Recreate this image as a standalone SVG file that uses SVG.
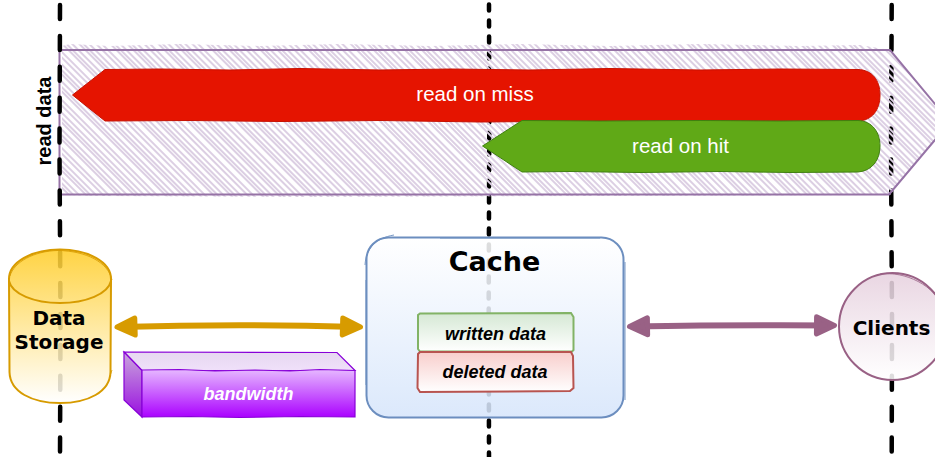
<svg xmlns="http://www.w3.org/2000/svg" width="935" height="457" viewBox="0 0 935 457">
<style>
.life{fill:none;stroke:#000;stroke-width:4.5;stroke-linecap:round}
.sans{font-family:"Liberation Sans",Arial,sans-serif;text-anchor:middle}
.dv{font-family:"DejaVu Sans",Verdana,sans-serif;font-weight:bold;text-anchor:middle;fill:#000}
.lbl{font-weight:bold;font-style:italic;font-size:18px}
.wh{fill:#fff;font-size:20.500px}
.arr{fill:none;stroke-width:6}
</style>
<defs>
<pattern id="hatch" width="34" height="34" patternUnits="userSpaceOnUse" patternTransform="rotate(45)">
<path d="M0 2H34M0 6H34M0 9H34M0 14H34M0 18H34M0 21H34M0 27H34M0 31H34" stroke="#dccfe3" stroke-width="1.800" fill="none"/>
</pattern>
<linearGradient id="gCyl" x1="0" y1="0" x2="0" y2="1"><stop offset="0" stop-color="#ffcd28"/><stop offset="1" stop-color="#fff"/></linearGradient>
<linearGradient id="gCache" x1="0" y1="0" x2="0" y2="1"><stop offset="0" stop-color="#fff"/><stop offset="1" stop-color="#d6e5fb"/></linearGradient>
<linearGradient id="gGreen" x1="0" y1="0" x2="0" y2="1"><stop offset="0" stop-color="#d5e8d4"/><stop offset="1" stop-color="#fff"/></linearGradient>
<linearGradient id="gRed" x1="0" y1="0" x2="0" y2="1"><stop offset="0" stop-color="#f8cecc"/><stop offset="1" stop-color="#fff"/></linearGradient>
<linearGradient id="gCirc" x1="0" y1="0" x2="0" y2="1"><stop offset="0" stop-color="#e6d0de"/><stop offset="1" stop-color="#fff"/></linearGradient>
<linearGradient id="gFront" x1="0" y1="0" x2="0" y2="1"><stop offset="0" stop-color="#e6b8ff"/><stop offset="1" stop-color="#aa00ff"/></linearGradient>
<linearGradient id="gTop" x1="0" y1="0" x2="0" y2="1"><stop offset="0" stop-color="#e6d8f0"/><stop offset="1" stop-color="#f0e0fa"/></linearGradient>
<linearGradient id="gSide" x1="0" y1="0" x2="0" y2="1"><stop offset="0" stop-color="#c9a6dc"/><stop offset="1" stop-color="#9a10e0"/></linearGradient>
<marker id="hO" markerUnits="userSpaceOnUse" markerWidth="30" markerHeight="30" refX="19" refY="15" orient="auto-start-reverse" viewBox="0 0 30 30"><path d="M3 6.500L21 15L3 23.500Z" fill="#d79b00" stroke="#d79b00" stroke-width="5" stroke-linejoin="round"/></marker>
<marker id="hP" markerUnits="userSpaceOnUse" markerWidth="30" markerHeight="30" refX="19" refY="15" orient="auto-start-reverse" viewBox="0 0 30 30"><path d="M3 6.500L21 15L3 23.500Z" fill="#996185" stroke="#996185" stroke-width="5" stroke-linejoin="round"/></marker>
</defs>

<g id="lifelines-back">
<path class="life" d="M489 4.500L489.300 120L488.700 300L489 457" stroke-dasharray="6 10"/>
<path class="life" d="M891.700 5L891 150L892 320L891.700 457" stroke-dasharray="14 16.900"/>
</g>

<g id="read-data-band">
<path d="M62 46L70 44L110 46L180 44L260 46L340 44L430 46L520 44L610 46L700 44L800 46L860 45L890 50L950 122L890 195L300 197L100 196L62 195Z" fill="url(#hatch)"/>
<path d="M59.500 50H890L950 122L889 194.500H59.500Z" fill="none" stroke="#9673a6" stroke-width="2"/>
<text class="sans" transform="translate(50.500,121) rotate(-90)" font-size="20" font-weight="bold" fill="#000">read data</text>
</g>

<g id="lifeline-left">
<path class="life" d="M60 5L59.500 150L60.500 320L60 457" stroke-dasharray="14 16.900"/>
</g>

<g id="read-on-miss">
<path d="M72.500 95L105 69.500L160 69L230 70L300 68.500L380 70L450 69L530 70L610 68.500L700 70L780 69L858 69.500C872 70 880 80 880 95C880 110 872 120.500 858 121L700 120.500L600 121L480 122L380 120.500L280 121.500L190 120.500L105 121Z" fill="#e51400" stroke="#c81000" stroke-width="1"/>
<text class="sans wh" x="475" y="101">read on miss</text>
</g>

<g id="read-on-hit">
<path d="M482.500 146L522 120.500L600 121L700 120.500L780 121L858 120.500C872 121 880 132 880 146C880 160 872 171 858 172L790 172.500L720 171.500L640 172.500L570 171.500L522 172Z" fill="#60a917" stroke="#3f8010" stroke-width="1"/>
<text class="sans wh" x="680.500" y="153">read on hit</text>
</g>

<g id="data-storage">
<path d="M9 279C9 262 32 249.500 60 249.500C88 249.500 111 262 111 279L110.500 372C110 392 88 403 60 403C32 403 10 392 9.500 372Z" fill="url(#gCyl)" fill-opacity=".87" stroke="#d79b00" stroke-width="2"/>
<path d="M9 281C12 294 34 303 60 303C86 303 108 294 111 281" fill="none" stroke="#d79b00" stroke-width="2"/>
<path d="M10 276C14 262 34 251 58 250.500C86 251 108 262 112 280M112 370L110 376" fill="none" stroke="#d79b00" stroke-width=".8"/>
<text class="dv" x="59" y="325" font-size="20">Data</text>
<text class="dv" x="59" y="349" font-size="20">Storage</text>
</g>

<g id="bandwidth">
<path d="M124 352L337 352.500L355 370.500L142 370.500Z" fill="url(#gTop)" stroke="#8800d8" stroke-width="1.200"/>
<path d="M124 352L142 370.500V417L124 400Z" fill="url(#gSide)" stroke="#8800d8" stroke-width="1.200"/>
<path d="M142 370L180 369.500L215 371L255 370L290 371L320 369.500L355 370.500V417L300 416.500L240 417.500L190 416.500L142 417Z" fill="url(#gFront)" stroke="#8800d8" stroke-width="1.200"/>
<text class="sans lbl" x="248.500" y="400" fill="#fff">bandwidth</text>
</g>

<g id="cache">
<rect x="366.500" y="237.500" width="257" height="180" rx="22" fill="url(#gCache)" fill-opacity=".87" stroke="#6c8ebf" stroke-width="2"/>
<path d="M365 265C366 248 376 238 394 235M625 262V400M366 280V385M440 238H600" fill="none" stroke="#6c8ebf" stroke-width=".9"/>
<text class="dv" x="494.500" y="271" font-size="27">Cache</text>
</g>

<g id="written-data">
<path d="M420 313.500L571 313L573.500 317V350L572 351.500H420L418 349V315Z" fill="url(#gGreen)" stroke="#82b366" stroke-width="2"/>
<text class="sans lbl" x="495.500" y="340" fill="#000">written data</text>
</g>

<g id="deleted-data">
<path d="M420 352L571 352L573 356L573.500 388L570 391L420 392L417.500 388L418 354Z" fill="url(#gRed)" stroke="#b85450" stroke-width="2"/>
<text class="sans lbl" x="495" y="378" fill="#000">deleted data</text>
</g>

<g id="clients">
<circle cx="892.500" cy="326.500" r="53.500" fill="url(#gCirc)" fill-opacity=".87" stroke="#996185" stroke-width="2"/>
<path d="M880 274C905 271 935 285 945 310" fill="none" stroke="#996185" stroke-width=".8"/>
<text class="dv" x="891.500" y="335" font-size="20">Clients</text>
</g>

<g id="connectors">
<path class="arr" d="M119 327C190 325 290 325 358.500 327" stroke="#d79b00" marker-start="url(#hO)" marker-end="url(#hO)"/>
<path class="arr" d="M631.500 326.500C700 325.500 770 325 832.500 325.500" stroke="#996185" marker-start="url(#hP)" marker-end="url(#hP)"/>
</g>
</svg>
